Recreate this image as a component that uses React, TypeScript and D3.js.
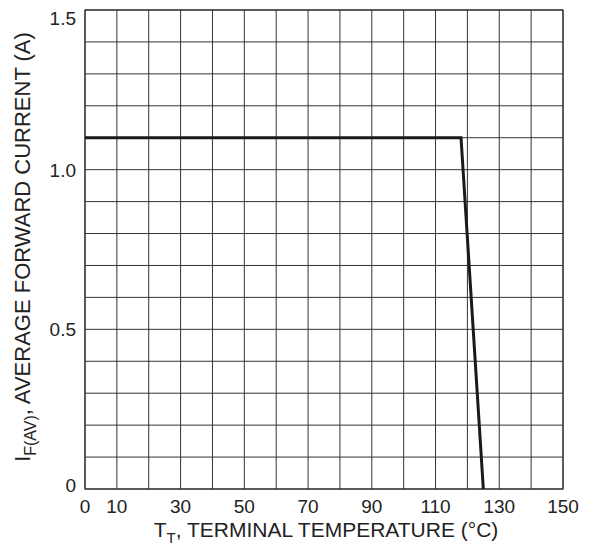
import React from "react";
import * as d3 from "d3";

const curveTemp = [0, 118, 125];
const curveCurrent = [1.1, 1.1, 0];
const xTickLabels = [0, 10, 30, 50, 70, 90, 110, 130, 150];
const yTickLabels = ["0", "0.5", "1.0", "1.5"];
const yTickValues = [0, 0.5, 1.0, 1.5];
const xGrid = d3.range(0, 151, 10);
const yGrid = d3.range(0, 16).map((i) => i / 10);

export default function App() {
  const W = 597, H = 546;
  const L = 85, R = 563, T = 10, B = 489;
  const x = d3.scaleLinear().domain([0, 150]).range([L, R]);
  const y = d3.scaleLinear().domain([0, 1.5]).range([B, T]);
  const pts = curveTemp.map((t, i) => [t, curveCurrent[i]] as [number, number]);
  const line = d3.line<[number, number]>().x((d) => x(d[0])).y((d) => y(d[1]));
  const font = "'Liberation Sans', Arial, sans-serif";
  return (
    <svg width={W} height={H} style={{ position: "absolute", left: 0, top: 0, background: "#fff" }} fontFamily={font}>
      <rect x={0} y={0} width={W} height={H} fill="#fff" />
      {xGrid.map((v) => (
        <line key={"x" + v} x1={x(v)} x2={x(v)} y1={T} y2={B} stroke="#333" strokeWidth={1} />
      ))}
      {yGrid.map((v) => (
        <line key={"y" + v} x1={L} x2={R} y1={y(v)} y2={y(v)} stroke="#333" strokeWidth={1} />
      ))}
      <rect x={L} y={T} width={R - L} height={B - T} fill="none" stroke="#333" strokeWidth={1.2} />
      <path d={line(pts) || ""} fill="none" stroke="#1a1a1a" strokeWidth={3} />
      {xTickLabels.map((v) => (
        <text key={"xt" + v} x={x(v)} y={B + 24} textAnchor="middle" fontSize={19} fill="#222">{v}</text>
      ))}
      {yTickValues.map((v, i) => (
        <text key={"yt" + v} x={L - 9} y={Math.max(25, Math.min(492, y(v) + 7))} textAnchor="end" fontSize={19} fill="#222">{yTickLabels[i]}</text>
      ))}
      <text x={(L + R) / 2 + 2} y={537} textAnchor="middle" fontSize={21} fill="#222">
        T<tspan fontSize={15} dy={6}>T</tspan><tspan dy={-6}>, TERMINAL TEMPERATURE (°C)</tspan>
      </text>
      <text transform={`translate(30, 247) rotate(-90)`} textAnchor="middle" fontSize={22} fill="#222">
        I<tspan fontSize={16} dy={6}>F(AV)</tspan><tspan dy={-6}>, AVERAGE FORWARD CURRENT (A)</tspan>
      </text>
    </svg>
  );
}
